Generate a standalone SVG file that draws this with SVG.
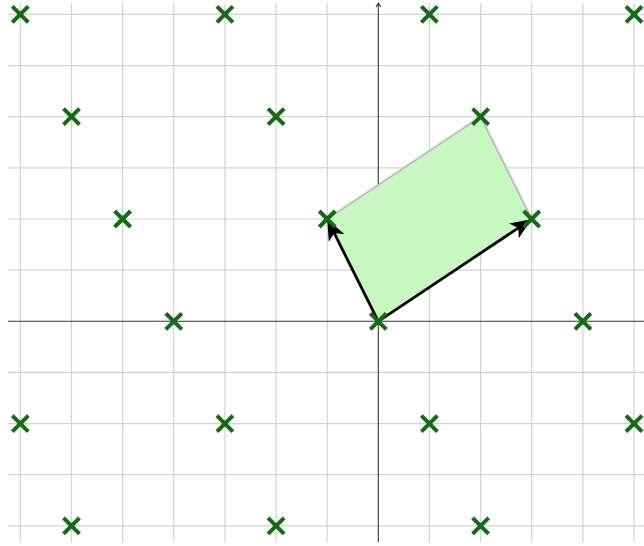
<svg xmlns="http://www.w3.org/2000/svg" width="644" height="546" viewBox="0 0 644 546">
<style>
.grid line{stroke:#d2d2d2;stroke-width:1.2}
.axis{stroke:#333;stroke-width:1.1;fill:none}
.pt{stroke:#136b13;stroke-width:4;stroke-linecap:butt;fill:none}
.vec{stroke:#000;stroke-width:2.8;fill:none}
</style>
<defs>
<marker id="ah" viewBox="0 0 12 10" refX="11" refY="5" markerWidth="7.5" markerHeight="6.25" orient="auto" markerUnits="strokeWidth">
<path d="M0,0 L12,5 L0,10 L3,5 Z" fill="#000" stroke="none"/>
</marker>
<path id="x" d="M-8,-8 L8,8 M-8,8 L8,-8"/>
</defs>
<rect width="644" height="546" fill="#fff"/>
<g class="grid">
<line x1="20.3" y1="3" x2="20.3" y2="542"/>
<line x1="71.5" y1="3" x2="71.5" y2="542"/>
<line x1="122.6" y1="3" x2="122.6" y2="542"/>
<line x1="173.8" y1="3" x2="173.8" y2="542"/>
<line x1="224.9" y1="3" x2="224.9" y2="542"/>
<line x1="276.1" y1="3" x2="276.1" y2="542"/>
<line x1="327.2" y1="3" x2="327.2" y2="542"/>
<line x1="429.4" y1="3" x2="429.4" y2="542"/>
<line x1="480.6" y1="3" x2="480.6" y2="542"/>
<line x1="531.7" y1="3" x2="531.7" y2="542"/>
<line x1="582.9" y1="3" x2="582.9" y2="542"/>
<line x1="634" y1="3" x2="634" y2="542"/>
<line x1="8" y1="14.4" x2="644" y2="14.4"/>
<line x1="8" y1="65.6" x2="644" y2="65.6"/>
<line x1="8" y1="116.7" x2="644" y2="116.7"/>
<line x1="8" y1="167.9" x2="644" y2="167.9"/>
<line x1="8" y1="219" x2="644" y2="219"/>
<line x1="8" y1="270.2" x2="644" y2="270.2"/>
<line x1="8" y1="372.4" x2="644" y2="372.4"/>
<line x1="8" y1="423.6" x2="644" y2="423.6"/>
<line x1="8" y1="474.7" x2="644" y2="474.7"/>
<line x1="8" y1="525.9" x2="644" y2="525.9"/>
</g>
<g id="axes">
<line class="axis" x1="8" y1="321.3" x2="644" y2="321.3"/>
<line class="axis" x1="378.3" y1="542" x2="378.3" y2="4"/>
<path class="axis" d="M376,7 L378.3,3 L380.6,7"/>
</g>
<g id="parallelogram">
<polygon points="378.3,321.3 531.7,219 480.6,116.7 327.2,219" fill="#c6f8c0" stroke="none"/>
<path d="M327.2,219 L480.6,116.7 L531.7,219" fill="none" stroke="#bdbdbd" stroke-width="2"/>
</g>
<g id="connectors">
<line class="vec" x1="378.3" y1="321.3" x2="530" y2="220.2" marker-end="url(#ah)"/>
<line class="vec" x1="378.3" y1="321.3" x2="328" y2="220.7" marker-end="url(#ah)"/>
</g>
<g class="pt" id="points">
<use href="#x" x="378.3" y="321.3"/>
<use href="#x" x="531.7" y="219"/>
<use href="#x" x="327.2" y="219"/>
<use href="#x" x="480.6" y="116.7"/>
<use href="#x" x="173.8" y="321.3"/>
<use href="#x" x="582.9" y="321.3"/>
<use href="#x" x="122.6" y="219"/>
<use href="#x" x="71.5" y="116.7"/>
<use href="#x" x="276.1" y="116.7"/>
<use href="#x" x="20.3" y="14.4"/>
<use href="#x" x="224.9" y="14.4"/>
<use href="#x" x="429.4" y="14.4"/>
<use href="#x" x="634" y="14.4"/>
<use href="#x" x="20.3" y="423.6"/>
<use href="#x" x="224.9" y="423.6"/>
<use href="#x" x="429.4" y="423.6"/>
<use href="#x" x="634" y="423.6"/>
<use href="#x" x="71.5" y="525.9"/>
<use href="#x" x="276.1" y="525.9"/>
<use href="#x" x="480.6" y="525.9"/>
</g>
</svg>
